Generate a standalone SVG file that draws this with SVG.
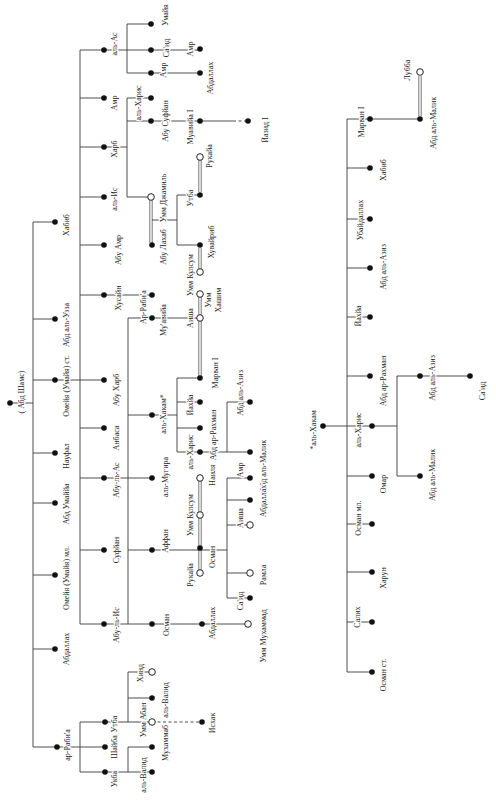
<svg xmlns="http://www.w3.org/2000/svg" width="496" height="800" viewBox="0 0 496 800">
<style>
.t{font-family:"Liberation Serif",serif;font-size:8px;text-anchor:middle;dominant-baseline:central;fill:#222;paint-order:stroke;stroke:#fff;stroke-width:2.4px;stroke-linejoin:round}
.d{fill:#111}
.o{fill:#fff;stroke:#222;stroke-width:1}
.l{stroke:#3a3a3a;stroke-width:0.9;fill:none}
.m{stroke:#555;stroke-width:0.8;fill:none}
.ds{stroke:#3a3a3a;stroke-width:0.9;fill:none;stroke-dasharray:3 2.5}
</style>
<rect width="496" height="800" fill="#fff"/>
<g id="connectors">
<path class="l" d="M10 403H33M33 222V747M33 222H55M33 319H55M33 380H104M33 453H55M33 503H55M33 575H55M33 649H55M33 747H80"/>
<path class="l" d="M80 50V624M80 50H127M80 98H104M80 147H127M80 197H104M80 245H104M80 295H152M80 428H104M80 478H152M80 550H104M80 624H248"/>
<path class="l" d="M127 24V73M127 24H151M127 50H200M127 73H200M127 98V197M127 98H151M127 121H233M127 197H151"/>
<path class="ds" d="M233 121H248"/>
<path class="m" d="M149.8 200V243M152.2 200V243M198.8 160V192M201.2 160V192M198.8 248V269M201.2 248V269M198.8 297V376M201.2 297V376M198.8 481V571M201.2 481V571M418.8 76V116M421.2 76V116"/>
<path class="l" d="M152 220H177M177 195V245M177 195H200M177 245H200"/>
<path class="l" d="M128 318V624M128 318H200M128 415H177M128 550H227"/>
<path class="l" d="M177 378V452M177 378H200M177 402H200M177 428H200M177 452H227M227 402V452M227 402H250M227 452H250"/>
<path class="l" d="M227 478V598M227 478H250M227 500H250M227 525H250M227 573H250M227 598H250"/>
<path class="l" d="M80 722V772M80 722H152M80 747H105M80 772H152M128 672V722M128 672H152M128 698H152M128 747V772M128 747H152"/>
<path class="ds" d="M152 722H202"/>
<path class="l" d="M323 426H347M347 119V672M347 119H420M347 168H370M347 219H370M347 268H370M347 317H370M347 376H370M347 426H397M347 476H370M347 524H370M347 572H370M347 622H370M347 672H370M397 376V476M397 376H470M397 476H420"/>
</g>
<g id="n-abd-shams"><circle class="d" cx="10" cy="403" r="2.8"/><text class="t" x="21" y="392" transform="rotate(-90 21 392)">( Абд Шамс)</text></g>
<g id="n-habib"><circle class="d" cx="55" cy="222" r="2.8"/><text class="t" x="66" y="225" transform="rotate(-90 66 225)">Хабиб</text></g>
<g id="n-abd-al-uzza"><circle class="d" cx="55" cy="319" r="2.8"/><text class="t" x="66" y="325" transform="rotate(-90 66 325)">Абд аль-Узза</text></g>
<g id="n-umayya-st"><circle class="d" cx="55" cy="380" r="2.8"/><text class="t" x="66" y="386" transform="rotate(-90 66 386)">Омейя (Умайя) ст.</text></g>
<g id="n-naufal"><circle class="d" cx="55" cy="453" r="2.8"/><text class="t" x="66" y="456" transform="rotate(-90 66 456)">Науфал</text></g>
<g id="n-abd-umayya"><circle class="d" cx="55" cy="503" r="2.8"/><text class="t" x="66" y="504" transform="rotate(-90 66 504)">Абд Умаййа</text></g>
<g id="n-umayya-ml"><circle class="d" cx="55" cy="575" r="2.8"/><text class="t" x="66" y="578" transform="rotate(-90 66 578)">Омейя (Умайя) мл.</text></g>
<g id="n-abdallah-1"><circle class="d" cx="55" cy="649" r="2.8"/><text class="t" x="66" y="649" transform="rotate(-90 66 649)">Абдаллах</text></g>
<g id="n-ar-rabia-1"><circle class="d" cx="57" cy="747" r="2.8"/><text class="t" x="67" y="745" transform="rotate(-90 67 745)">ар-Раби'а</text></g>
<g id="n-al-as"><circle class="d" cx="104" cy="50" r="2.8"/><text class="t" x="114" y="44" transform="rotate(-90 114 44)">аль-Ас</text></g>
<g id="n-amr-2"><circle class="d" cx="104" cy="98" r="2.8"/><text class="t" x="114" y="103" transform="rotate(-90 114 103)">Амр</text></g>
<g id="n-harb"><circle class="d" cx="104" cy="147" r="2.8"/><text class="t" x="114" y="149" transform="rotate(-90 114 149)">Харб</text></g>
<g id="n-al-is"><circle class="d" cx="104" cy="197" r="2.8"/><text class="t" x="114" y="199" transform="rotate(-90 114 199)">аль-Ис</text></g>
<g id="n-abu-amr"><circle class="d" cx="104" cy="245" r="2.8"/><text class="t" x="118" y="250" transform="rotate(-90 118 250)">Абу Амр</text></g>
<g id="n-husain"><circle class="d" cx="104" cy="295" r="2.8"/><text class="t" x="118" y="298" transform="rotate(-90 118 298)">Хусайн</text></g>
<g id="n-abu-harb"><circle class="d" cx="104" cy="380" r="2.8"/><text class="t" x="116" y="390" transform="rotate(-90 116 390)">Абу Харб</text></g>
<g id="n-anbasa"><circle class="d" cx="104" cy="428" r="2.8"/><text class="t" x="116" y="438" transform="rotate(-90 116 438)">Анбаса</text></g>
<g id="n-abu-l-as"><circle class="d" cx="104" cy="478" r="2.8"/><text class="t" x="116" y="480" transform="rotate(-90 116 480)">Абу-ль-Ас</text></g>
<g id="n-sufyan"><circle class="d" cx="104" cy="550" r="2.8"/><text class="t" x="116" y="550" transform="rotate(-90 116 550)">Суфйан</text></g>
<g id="n-abu-l-is"><circle class="d" cx="104" cy="624" r="2.8"/><text class="t" x="116" y="625" transform="rotate(-90 116 625)">Абу-ль-Ис</text></g>
<g id="n-utba-1"><circle class="d" cx="105" cy="722" r="2.8"/><text class="t" x="114" y="724" transform="rotate(-90 114 724)">Утба</text></g>
<g id="n-shaiba"><circle class="d" cx="105" cy="747" r="2.8"/><text class="t" x="114" y="747" transform="rotate(-90 114 747)">Шайба</text></g>
<g id="n-ukba"><circle class="d" cx="105" cy="772" r="2.8"/><text class="t" x="114" y="779" transform="rotate(-90 114 779)">Укба</text></g>
<g id="n-umayya-3"><circle class="d" cx="151" cy="24" r="2.8"/><text class="t" x="165" y="15" transform="rotate(-90 165 15)">Умайя</text></g>
<g id="n-said-3"><circle class="d" cx="151" cy="50" r="2.8"/><text class="t" x="166" y="48" transform="rotate(-90 166 48)">Са'ид</text></g>
<g id="n-amr-3"><circle class="d" cx="151" cy="73" r="2.8"/><text class="t" x="163" y="70" transform="rotate(-90 163 70)">Амр</text></g>
<g id="n-al-haris-3"><circle class="d" cx="151" cy="98" r="2.8"/><text class="t" x="138" y="103" transform="rotate(-90 138 103)">аль-Харис</text></g>
<g id="n-abu-sufyan"><circle class="d" cx="151" cy="121" r="2.8"/><text class="t" x="165" y="121" transform="rotate(-90 165 121)">Абу Суфйан</text></g>
<g id="n-umm-jamil"><circle class="o" cx="151" cy="197" r="3.3"/><text class="t" x="163" y="198" transform="rotate(-90 163 198)">Умм Джамиль</text></g>
<g id="n-abu-lahab"><circle class="d" cx="152" cy="245" r="2.8"/><text class="t" x="163" y="247" transform="rotate(-90 163 247)">Абу Лахаб</text></g>
<g id="n-ar-rabia-3"><circle class="d" cx="152" cy="295" r="2.8"/><text class="t" x="143" y="307" transform="rotate(-90 143 307)">Ар-Раби'а</text></g>
<g id="n-muawiya-3"><circle class="d" cx="152" cy="318" r="2.8"/><text class="t" x="163" y="320" transform="rotate(-90 163 320)">Му'авийа</text></g>
<g id="n-al-hakam-3"><circle class="d" cx="152" cy="415" r="2.8"/><text class="t" x="163" y="414" transform="rotate(-90 163 414)">аль-Хакам*</text></g>
<g id="n-al-mughira"><circle class="d" cx="152" cy="478" r="2.8"/><text class="t" x="165" y="477" transform="rotate(-90 165 477)">аль-Мугира</text></g>
<g id="n-affan"><circle class="d" cx="152" cy="550" r="2.8"/><text class="t" x="165" y="541" transform="rotate(-90 165 541)">Аффан</text></g>
<g id="n-osman-3"><circle class="d" cx="152" cy="624" r="2.8"/><text class="t" x="166" y="625" transform="rotate(-90 166 625)">Осман</text></g>
<g id="n-hind"><circle class="o" cx="152" cy="672" r="3.3"/><text class="t" x="140" y="673" transform="rotate(-90 140 673)">Хинд</text></g>
<g id="n-al-walid-1"><circle class="d" cx="152" cy="698" r="2.8"/><text class="t" x="165" y="700" transform="rotate(-90 165 700)">аль-Валид</text></g>
<g id="n-umm-aban"><circle class="o" cx="152" cy="722" r="3.3"/><text class="t" x="143" y="720" transform="rotate(-90 143 720)">Умм Абан</text></g>
<g id="n-muhammab"><circle class="d" cx="152" cy="747" r="2.8"/><text class="t" x="165" y="743" transform="rotate(-90 165 743)">Мухаммаб</text></g>
<g id="n-al-walid-2"><circle class="d" cx="152" cy="772" r="2.8"/><text class="t" x="143" y="775" transform="rotate(-90 143 775)">аль-Валид</text></g>
<g id="n-amr-4"><circle class="d" cx="200" cy="49" r="2.8"/><text class="t" x="190" y="49" transform="rotate(-90 190 49)">Амр</text></g>
<g id="n-abdallah-4a"><circle class="d" cx="200" cy="73" r="2.8"/><text class="t" x="210" y="78" transform="rotate(-90 210 78)">Абдаллах</text></g>
<g id="n-muawiya-i"><circle class="d" cx="200" cy="121" r="2.8"/><text class="t" x="190" y="127" transform="rotate(-90 190 127)">Муавийа I</text></g>
<g id="n-ruqayya-1"><circle class="o" cx="200" cy="157" r="3.3"/><text class="t" x="209" y="156" transform="rotate(-90 209 156)">Рукайа</text></g>
<g id="n-utba-4"><circle class="d" cx="200" cy="195" r="2.8"/><text class="t" x="190" y="198" transform="rotate(-90 190 198)">Утба</text></g>
<g id="n-utayba"><circle class="d" cx="200" cy="245" r="2.8"/><text class="t" x="211" y="242" transform="rotate(-90 211 242)">Хувайриб</text></g>
<g id="n-umm-kulsum-1"><circle class="o" cx="200" cy="272" r="3.3"/><text class="t" x="190" y="275" transform="rotate(-90 190 275)">Умм Кулсум</text></g>
<g id="n-umm-hashim"><circle class="o" cx="200" cy="294" r="3.3"/><text class="t" x="208" y="300" transform="rotate(-90 208 300)">Умм</text><text class="t" x="218" y="300" transform="rotate(-90 218 300)">Хашим</text></g>
<g id="n-aisha-4"><circle class="o" cx="200" cy="318" r="3.3"/><text class="t" x="190" y="318" transform="rotate(-90 190 318)">Аиша</text></g>
<g id="n-marwan-4"><circle class="d" cx="200" cy="378" r="2.8"/><text class="t" x="215" y="373" transform="rotate(-90 215 373)">Марван I</text></g>
<g id="n-yahya-4"><circle class="d" cx="200" cy="402" r="2.8"/><text class="t" x="190" y="405" transform="rotate(-90 190 405)">Йахйа</text></g>
<g id="n-abd-ar-rahman-4"><circle class="d" cx="200" cy="428" r="2.8"/><text class="t" x="213" y="435" transform="rotate(-90 213 435)">Абд ар-Рахман</text></g>
<g id="n-al-haris-4"><circle class="d" cx="200" cy="452" r="2.8"/><text class="t" x="190" y="452" transform="rotate(-90 190 452)">аль-Харис</text></g>
<g id="n-nailya"><circle class="o" cx="200" cy="478" r="3.3"/><text class="t" x="212" y="475" transform="rotate(-90 212 475)">Наиля</text></g>
<g id="n-umm-kulsum-2"><circle class="o" cx="200" cy="515" r="3.3"/><text class="t" x="190" y="515" transform="rotate(-90 190 515)">Умм Кулсум</text></g>
<g id="n-osman-4"><circle class="d" cx="200" cy="548" r="2.8"/><text class="t" x="212" y="557" transform="rotate(-90 212 557)">Осман</text></g>
<g id="n-ruqayya-2"><circle class="o" cx="200" cy="573" r="3.3"/><text class="t" x="190" y="575" transform="rotate(-90 190 575)">Рукайа</text></g>
<g id="n-abdallah-4b"><circle class="d" cx="202" cy="624" r="2.8"/><text class="t" x="212" y="623" transform="rotate(-90 212 623)">Абдаллах</text></g>
<g id="n-ishak"><circle class="d" cx="202" cy="722" r="2.8"/><text class="t" x="212" y="723" transform="rotate(-90 212 723)">Исхак</text></g>
<g id="n-yazid-i"><circle class="d" cx="248" cy="121" r="2.8"/><text class="t" x="265" y="130" transform="rotate(-90 265 130)">Йазид I</text></g>
<g id="n-abd-al-aziz-5"><circle class="d" cx="250" cy="402" r="2.8"/><text class="t" x="240" y="393" transform="rotate(-90 240 393)">Абд аль-Азиз</text></g>
<g id="n-abd-al-malik-5"><circle class="d" cx="250" cy="452" r="2.8"/><text class="t" x="263" y="466" transform="rotate(-90 263 466)">Абд аль-Малик</text></g>
<g id="n-amr-5"><circle class="d" cx="250" cy="478" r="2.8"/><text class="t" x="240" y="470" transform="rotate(-90 240 470)">Амр</text></g>
<g id="n-abdallah-5"><circle class="d" cx="250" cy="500" r="2.8"/><text class="t" x="263" y="501" transform="rotate(-90 263 501)">Абдаллах</text></g>
<g id="n-aisha-5"><circle class="o" cx="250" cy="525" r="3.3"/><text class="t" x="240" y="518" transform="rotate(-90 240 518)">Аиша</text></g>
<g id="n-ramla"><circle class="o" cx="250" cy="573" r="3.3"/><text class="t" x="263" y="575" transform="rotate(-90 263 575)">Рамла</text></g>
<g id="n-said-5"><circle class="d" cx="250" cy="598" r="2.8"/><text class="t" x="240" y="601" transform="rotate(-90 240 601)">Са'ид</text></g>
<g id="n-umm-muhammad"><circle class="o" cx="248" cy="624" r="3.3"/><text class="t" x="263" y="636" transform="rotate(-90 263 636)">Умм Мухаммад</text></g>
<g id="r-al-hakam"><circle class="d" cx="323" cy="426" r="2.8"/><text class="t" x="313" y="430" transform="rotate(-90 313 430)">*аль-Хакам</text></g>
<g id="r-marwan"><circle class="d" cx="370" cy="119" r="2.8"/><text class="t" x="361" y="122" transform="rotate(-90 361 122)">Марван I</text></g>
<g id="r-habib"><circle class="d" cx="370" cy="168" r="2.8"/><text class="t" x="383" y="170" transform="rotate(-90 383 170)">Хабиб</text></g>
<g id="r-ubaidallah"><circle class="d" cx="370" cy="219" r="2.8"/><text class="t" x="360" y="220" transform="rotate(-90 360 220)">Убайдаллах</text></g>
<g id="r-abd-al-aziz"><circle class="d" cx="370" cy="268" r="2.8"/><text class="t" x="383" y="267" transform="rotate(-90 383 267)">Абд аль-Азиз</text></g>
<g id="r-yahya"><circle class="d" cx="370" cy="317" r="2.8"/><text class="t" x="358" y="316" transform="rotate(-90 358 316)">Йахйа</text></g>
<g id="r-abd-ar-rahman"><circle class="d" cx="370" cy="376" r="2.8"/><text class="t" x="383" y="381" transform="rotate(-90 383 381)">Абд ар-Рахман</text></g>
<g id="r-al-haris"><circle class="d" cx="372" cy="426" r="2.8"/><text class="t" x="358" y="430" transform="rotate(-90 358 430)">аль-Харис</text></g>
<g id="r-omar"><circle class="d" cx="372" cy="476" r="2.8"/><text class="t" x="383" y="484" transform="rotate(-90 383 484)">Омар</text></g>
<g id="r-osman-ml"><circle class="d" cx="372" cy="524" r="2.8"/><text class="t" x="358" y="518" transform="rotate(-90 358 518)">Осман мл.</text></g>
<g id="r-harun"><circle class="d" cx="372" cy="572" r="2.8"/><text class="t" x="383" y="578" transform="rotate(-90 383 578)">Харун</text></g>
<g id="r-salih"><circle class="d" cx="372" cy="622" r="2.8"/><text class="t" x="357" y="617" transform="rotate(-90 357 617)">Салих</text></g>
<g id="r-osman-st"><circle class="d" cx="372" cy="672" r="2.8"/><text class="t" x="383" y="675" transform="rotate(-90 383 675)">Осман ст.</text></g>
<g id="r-abd-al-malik-1"><circle class="d" cx="420" cy="119" r="2.8"/><text class="t" x="433" y="123" transform="rotate(-90 433 123)">Абд аль-Малик</text></g>
<g id="r-lubba"><circle class="o" cx="420" cy="72" r="3.3"/><text class="t" x="407" y="70" transform="rotate(-90 407 70)">Лубба</text></g>
<g id="r-abd-al-aziz-2"><circle class="d" cx="420" cy="376" r="2.8"/><text class="t" x="432" y="378" transform="rotate(-90 432 378)">Абд аль-Азиз</text></g>
<g id="r-abd-al-malik-2"><circle class="d" cx="420" cy="476" r="2.8"/><text class="t" x="432" y="475" transform="rotate(-90 432 475)">Абд аль-Малик</text></g>
<g id="r-said"><circle class="d" cx="470" cy="376" r="2.8"/><text class="t" x="482" y="391" transform="rotate(-90 482 391)">Са'ид</text></g>
</svg>
